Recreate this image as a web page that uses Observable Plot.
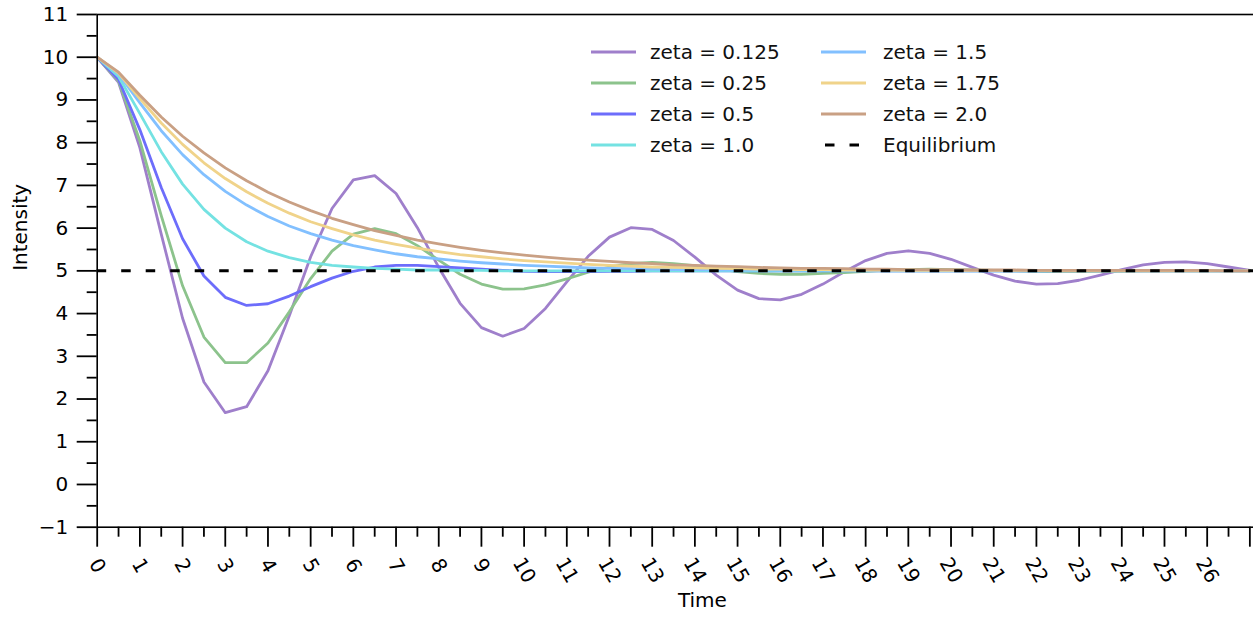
<!DOCTYPE html>
<html><head><meta charset="utf-8">
<script src="https://cdn.jsdelivr.net/npm/d3@7"></script>
<script src="https://cdn.jsdelivr.net/npm/@observablehq/plot@0.6"></script>
<style>
body{margin:0;background:#fff;}
#wrap{width:1253px;height:617px;overflow:hidden;position:relative;}
#wrap svg{max-width:none !important;}
</style>
</head><body><div id="wrap"></div>
<script>
const time = [0,0.5,1,1.5,2,2.5,3,3.5,4,4.5,5,5.5,6,6.5,7,7.5,8,8.5,9,9.5,10,10.5,11,11.5,12,12.5,13,13.5,14,14.5,15,15.5,16,16.5,17,17.5,18,18.5,19,19.5,20,20.5,21,21.5,22,22.5,23,23.5,24,24.5,25,25.5,26,26.5,27];

const zeta0125 = [10.00,9.41,7.88,5.86,3.89,2.40,1.68,1.82,2.66,3.95,
  5.33,6.46,7.13,7.23,6.81,6.01,5.08,4.24,3.67,3.47,
  3.65,4.12,4.74,5.34,5.79,6.01,5.97,5.71,5.32,4.90,
  4.55,4.35,4.32,4.45,4.69,4.98,5.24,5.41,5.47,5.41,
  5.27,5.08,4.90,4.76,4.69,4.70,4.78,4.90,5.03,5.14,
  5.20,5.21,5.17,5.09,5.01];
const zeta025 = [10.00,9.44,8.04,6.29,4.65,3.45,2.85,2.85,3.31,4.04,
  4.82,5.46,5.86,5.99,5.87,5.59,5.25,4.92,4.69,4.57,
  4.58,4.67,4.81,4.97,5.09,5.17,5.20,5.17,5.12,5.05,
  4.98,4.94,4.92,4.92,4.94,4.96,4.99,5.02,5.03,5.04,
  5.03,5.02,5.01,5.00,4.99,4.98,4.98,4.99,4.99,5.00,
  5.00,5.00,5.00,5.00,5.00];
const zeta05 = [10.00,9.48,8.30,6.95,5.75,4.88,4.38,4.19,4.23,4.41,
  4.63,4.83,4.99,5.09,5.13,5.13,5.10,5.07,5.04,5.01,
  4.99,4.98,4.98,4.98,4.99,4.99,5.00,5.00,5.00,5.00,
  5.00,5.00,5.00,5.00,5.00,5.00,5.00,5.00,5.00,5.00,
  5.00,5.00,5.00,5.00,5.00,5.00,5.00,5.00,5.00,5.00,
  5.00,5.00,5.00,5.00,5.00];
const zeta1 = [10.00,9.55,8.68,7.79,7.03,6.44,6.00,5.68,5.46,5.31,
  5.20,5.13,5.09,5.06,5.04,5.02,5.02,5.01,5.01,5.00,
  5.00,5.00,5.00,5.00,5.00,5.00,5.00,5.00,5.00,5.00,
  5.00,5.00,5.00,5.00,5.00,5.00,5.00,5.00,5.00,5.00,
  5.00,5.00,5.00,5.00,5.00,5.00,5.00,5.00,5.00,5.00,
  5.00,5.00,5.00,5.00,5.00];
const zeta15 = [10.00,9.61,8.93,8.28,7.72,7.25,6.86,6.54,6.27,6.05,
  5.87,5.72,5.59,5.49,5.40,5.33,5.28,5.23,5.19,5.16,
  5.13,5.11,5.09,5.07,5.06,5.05,5.04,5.03,5.03,5.02,
  5.02,5.02,5.01,5.01,5.01,5.01,5.01,5.00,5.00,5.00,
  5.00,5.00,5.00,5.00,5.00,5.00,5.00,5.00,5.00,5.00,
  5.00,5.00,5.00,5.00,5.00];
const zeta175 = [10.00,9.63,9.03,8.46,7.96,7.53,7.16,6.85,6.58,6.35,
  6.15,5.99,5.84,5.72,5.62,5.53,5.45,5.38,5.33,5.28,
  5.24,5.21,5.18,5.15,5.13,5.11,5.09,5.08,5.07,5.06,
  5.05,5.04,5.04,5.03,5.03,5.02,5.02,5.02,5.01,5.01,
  5.01,5.01,5.01,5.01,5.01,5.00,5.00,5.00,5.00,5.00,
  5.00,5.00,5.00,5.00,5.00];
const zeta2 = [10.00,9.65,9.11,8.60,8.15,7.76,7.41,7.11,6.84,6.61,
  6.41,6.23,6.08,5.94,5.83,5.72,5.63,5.55,5.48,5.42,
  5.37,5.32,5.28,5.25,5.22,5.19,5.17,5.14,5.13,5.11,
  5.10,5.08,5.07,5.06,5.06,5.05,5.04,5.04,5.03,5.03,
  5.03,5.02,5.02,5.02,5.01,5.01,5.01,5.01,5.01,5.01,
  5.01,5.01,5.01,5.00,5.00];

const seriesLabels = ["zeta = 0.125","zeta = 0.25","zeta = 0.5","zeta = 1.0","zeta = 1.5","zeta = 1.75","zeta = 2.0"];
const seriesValues = [zeta0125, zeta025, zeta05, zeta1, zeta15, zeta175, zeta2];
const seriesColors = ["#9f7fcb","#8cc38c","#6d6dfb","#74e2e2","#82c0ff","#f0d38a","#c9a084"];
const equilibrium = 5;
const equilibriumLabel = "Equilibrium";

const xMajorTicks = [0,1,2,3,4,5,6,7,8,9,10,11,12,13,14,15,16,17,18,19,20,21,22,23,24,25,26,27,28];
const xMinorTicks = [0.5,1.5,2.5,3.5,4.5,5.5,6.5,7.5,8.5,9.5,10.5,11.5,12.5,13.5,14.5,15.5,16.5,17.5,18.5,19.5,20.5,21.5,22.5,23.5,24.5,25.5,26.5,27.5];
const xTickLabels = [0,1,2,3,4,5,6,7,8,9,10,11,12,13,14,15,16,17,18,19,20,21,22,23,24,25,26];
const yMajorTicks = [-1,0,1,2,3,4,5,6,7,8,9,10,11];
const yMinorTicks = [-0.5,0.5,1.5,2.5,3.5,4.5,5.5,6.5,7.5,8.5,9.5,10.5];
const xLabel = "Time";
const yLabel = "Intensity";

const rows = seriesLabels.flatMap((key, i) => time.map((t, j) => ({t, v: seriesValues[i][j], key})));

const FONT = 20;
const chart = Plot.plot({
  width: 1310, height: 617,
  marginLeft: 96.7, marginRight: 3, marginTop: 14, marginBottom: 90.3,
  style: {fontFamily: "'DejaVu Sans', sans-serif", fontSize: FONT + "px", background: "white", color: "black", maxWidth: "none"},
  x: {domain: [0, 28.35], axis: null},
  y: {domain: [-1, 11], axis: null},
  color: {domain: seriesLabels, range: seriesColors},
  marks: [
    Plot.line(rows, {x: "t", y: "v", z: "key", stroke: "key", strokeWidth: 2.8}),
    Plot.ruleY([equilibrium], {stroke: "black", strokeWidth: 3, strokeDasharray: "9.5,15"}),
    Plot.frame({stroke: "black", strokeWidth: 1.6}),
    Plot.axisY(yMajorTicks, {tickSize: 20, tickPadding: 9, strokeWidth: 1.8, fontSize: FONT, label: null}),
    Plot.axisY(yMinorTicks, {tickSize: 10, strokeWidth: 1.8, tickFormat: () => "", label: null}),
    Plot.axisX(xMajorTicks, {tickSize: 20, strokeWidth: 1.8, tickFormat: () => "", label: null}),
    Plot.axisX(xMinorTicks, {tickSize: 10, strokeWidth: 1.8, tickFormat: () => "", label: null}),
    Plot.text(xTickLabels.filter(d => d < 10), {x: d => d, text: d => String(d), frameAnchor: "bottom", dy: 38.5, rotate: 60, textAnchor: "middle", lineAnchor: "middle", fontSize: FONT}),
    Plot.text(xTickLabels.filter(d => d >= 10), {x: d => d, text: d => String(d), frameAnchor: "bottom", dy: 43, rotate: 60, textAnchor: "middle", lineAnchor: "middle", fontSize: FONT}),
    Plot.text([xLabel], {frameAnchor: "bottom", dy: 80, fontSize: FONT}),
    Plot.text([yLabel], {frameAnchor: "left", dx: -77, rotate: -90, fontSize: FONT})
  ]
});
chart.style.maxWidth = "none";

// legend
const svg = d3.select(chart);
const lg = svg.append("g").attr("font-family", "'DejaVu Sans', sans-serif").attr("font-size", FONT).attr("text-anchor", "start");
const legendItems = seriesLabels.map((l, i) => ({label: l, color: seriesColors[i], dash: null}))
  .concat([{label: equilibriumLabel, color: "black", dash: "9.5,15"}]);
legendItems.forEach((it, i) => {
  const col = i < 4 ? 0 : 1, row = i % 4;
  const x0 = col === 0 ? 591 : 821, tx = col === 0 ? 650 : 883;
  const y = 52 + 31 * row;
  lg.append("line").attr("x1", x0).attr("x2", x0 + 45).attr("y1", y).attr("y2", y)
    .attr("stroke", it.color).attr("stroke-width", 3)
    .attr("stroke-dasharray", it.dash).attr("stroke-dashoffset", it.dash ? -4 : null);
  lg.append("text").attr("x", tx).attr("y", y).attr("dy", "0.35em").attr("fill", "#111").attr("text-anchor", "start").text(it.label);
});

document.getElementById("wrap").appendChild(chart);
</script>
</body></html>
